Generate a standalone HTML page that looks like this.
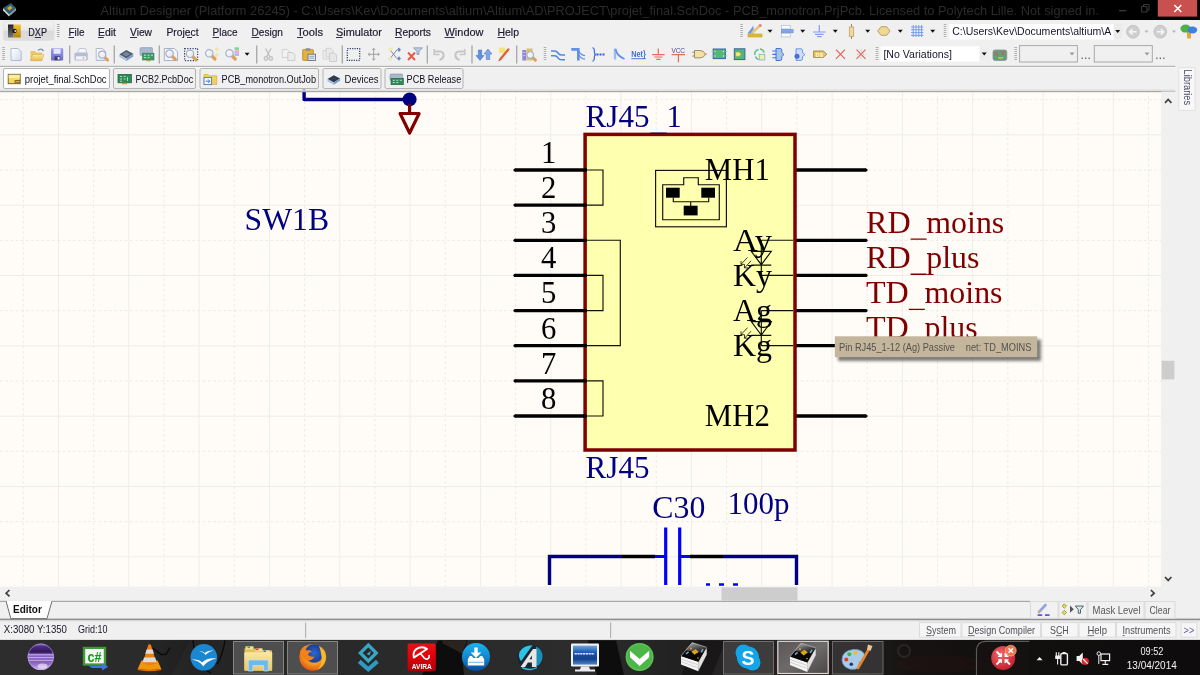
<!DOCTYPE html>
<html><head><meta charset="utf-8">
<style>
html,body{margin:0;padding:0;background:#f0f0f0;overflow:hidden;}
svg{display:block;filter:blur(0.4px);}
text{font-family:"Liberation Sans",sans-serif;}
.se,.se text{font-family:"Liberation Serif",serif;}
</style></head>
<body>
<svg width="1200" height="675" viewBox="0 0 1200 675">
<defs>
<filter id="ttsh" x="-5%" y="-30%" width="110%" height="160%"><feGaussianBlur stdDeviation="1.6"/></filter>

</defs>
<rect width="1200" height="675" fill="#f0f0f0"/>
<g id="canvas">
<rect x="0" y="92" width="1161.3" height="495" fill="#fffcf8"/>
<line x1="23.30" y1="91" x2="23.30" y2="587" stroke="#ebeae6" stroke-width="1" stroke-dasharray="2.6 2.6"/>
<line x1="58.47" y1="91" x2="58.47" y2="587" stroke="#eeede9" stroke-width="1"/>
<line x1="93.63" y1="91" x2="93.63" y2="587" stroke="#ebeae6" stroke-width="1" stroke-dasharray="2.6 2.6"/>
<line x1="128.79" y1="91" x2="128.79" y2="587" stroke="#eeede9" stroke-width="1"/>
<line x1="163.96" y1="91" x2="163.96" y2="587" stroke="#ebeae6" stroke-width="1" stroke-dasharray="2.6 2.6"/>
<line x1="199.12" y1="91" x2="199.12" y2="587" stroke="#eeede9" stroke-width="1"/>
<line x1="234.29" y1="91" x2="234.29" y2="587" stroke="#ebeae6" stroke-width="1" stroke-dasharray="2.6 2.6"/>
<line x1="269.45" y1="91" x2="269.45" y2="587" stroke="#eeede9" stroke-width="1"/>
<line x1="304.62" y1="91" x2="304.62" y2="587" stroke="#ebeae6" stroke-width="1" stroke-dasharray="2.6 2.6"/>
<line x1="339.79" y1="91" x2="339.79" y2="587" stroke="#eeede9" stroke-width="1"/>
<line x1="374.95" y1="91" x2="374.95" y2="587" stroke="#ebeae6" stroke-width="1" stroke-dasharray="2.6 2.6"/>
<line x1="410.12" y1="91" x2="410.12" y2="587" stroke="#eeede9" stroke-width="1"/>
<line x1="445.28" y1="91" x2="445.28" y2="587" stroke="#ebeae6" stroke-width="1" stroke-dasharray="2.6 2.6"/>
<line x1="480.45" y1="91" x2="480.45" y2="587" stroke="#eeede9" stroke-width="1"/>
<line x1="515.61" y1="91" x2="515.61" y2="587" stroke="#ebeae6" stroke-width="1" stroke-dasharray="2.6 2.6"/>
<line x1="550.78" y1="91" x2="550.78" y2="587" stroke="#eeede9" stroke-width="1"/>
<line x1="585.94" y1="91" x2="585.94" y2="587" stroke="#ebeae6" stroke-width="1" stroke-dasharray="2.6 2.6"/>
<line x1="621.11" y1="91" x2="621.11" y2="587" stroke="#eeede9" stroke-width="1"/>
<line x1="656.27" y1="91" x2="656.27" y2="587" stroke="#ebeae6" stroke-width="1" stroke-dasharray="2.6 2.6"/>
<line x1="691.43" y1="91" x2="691.43" y2="587" stroke="#eeede9" stroke-width="1"/>
<line x1="726.60" y1="91" x2="726.60" y2="587" stroke="#ebeae6" stroke-width="1" stroke-dasharray="2.6 2.6"/>
<line x1="761.76" y1="91" x2="761.76" y2="587" stroke="#eeede9" stroke-width="1"/>
<line x1="796.93" y1="91" x2="796.93" y2="587" stroke="#ebeae6" stroke-width="1" stroke-dasharray="2.6 2.6"/>
<line x1="832.09" y1="91" x2="832.09" y2="587" stroke="#eeede9" stroke-width="1"/>
<line x1="867.26" y1="91" x2="867.26" y2="587" stroke="#ebeae6" stroke-width="1" stroke-dasharray="2.6 2.6"/>
<line x1="902.42" y1="91" x2="902.42" y2="587" stroke="#eeede9" stroke-width="1"/>
<line x1="937.59" y1="91" x2="937.59" y2="587" stroke="#ebeae6" stroke-width="1" stroke-dasharray="2.6 2.6"/>
<line x1="972.75" y1="91" x2="972.75" y2="587" stroke="#eeede9" stroke-width="1"/>
<line x1="1007.92" y1="91" x2="1007.92" y2="587" stroke="#ebeae6" stroke-width="1" stroke-dasharray="2.6 2.6"/>
<line x1="1043.08" y1="91" x2="1043.08" y2="587" stroke="#eeede9" stroke-width="1"/>
<line x1="1078.25" y1="91" x2="1078.25" y2="587" stroke="#ebeae6" stroke-width="1" stroke-dasharray="2.6 2.6"/>
<line x1="1113.41" y1="91" x2="1113.41" y2="587" stroke="#eeede9" stroke-width="1"/>
<line x1="1148.58" y1="91" x2="1148.58" y2="587" stroke="#ebeae6" stroke-width="1" stroke-dasharray="2.6 2.6"/>
<line x1="0" y1="99.70" x2="1161" y2="99.70" stroke="#ebeae6" stroke-width="1" stroke-dasharray="2.6 2.6"/>
<line x1="0" y1="134.87" x2="1161" y2="134.87" stroke="#eeede9" stroke-width="1"/>
<line x1="0" y1="170.03" x2="1161" y2="170.03" stroke="#ebeae6" stroke-width="1" stroke-dasharray="2.6 2.6"/>
<line x1="0" y1="205.19" x2="1161" y2="205.19" stroke="#eeede9" stroke-width="1"/>
<line x1="0" y1="240.36" x2="1161" y2="240.36" stroke="#ebeae6" stroke-width="1" stroke-dasharray="2.6 2.6"/>
<line x1="0" y1="275.52" x2="1161" y2="275.52" stroke="#eeede9" stroke-width="1"/>
<line x1="0" y1="310.69" x2="1161" y2="310.69" stroke="#ebeae6" stroke-width="1" stroke-dasharray="2.6 2.6"/>
<line x1="0" y1="345.86" x2="1161" y2="345.86" stroke="#eeede9" stroke-width="1"/>
<line x1="0" y1="381.02" x2="1161" y2="381.02" stroke="#ebeae6" stroke-width="1" stroke-dasharray="2.6 2.6"/>
<line x1="0" y1="416.19" x2="1161" y2="416.19" stroke="#eeede9" stroke-width="1"/>
<line x1="0" y1="451.35" x2="1161" y2="451.35" stroke="#ebeae6" stroke-width="1" stroke-dasharray="2.6 2.6"/>
<line x1="0" y1="486.52" x2="1161" y2="486.52" stroke="#eeede9" stroke-width="1"/>
<line x1="0" y1="521.68" x2="1161" y2="521.68" stroke="#ebeae6" stroke-width="1" stroke-dasharray="2.6 2.6"/>
<line x1="0" y1="556.85" x2="1161" y2="556.85" stroke="#eeede9" stroke-width="1"/>
<!-- top-left wire + power port -->
<g fill="none" transform="translate(0.6,0)" stroke-linejoin="round" stroke-linecap="round">
<path d="M303.5 91 V99.5 H409" stroke="#000080" stroke-width="3.4"/>
<circle cx="409" cy="99.4" r="7" fill="#000080"/>
<path d="M409 105 V113" stroke="#800000" stroke-width="3.2"/>
<path d="M399.5 113.5 H418.5 L409 133 Z" stroke="#800000" stroke-width="3.2"/>
</g>
<text class="se" x="244.6" y="229.5" font-size="30.7" fill="#000080" textLength="84.5" lengthAdjust="spacingAndGlyphs">SW1B</text>
<!-- RJ45 body -->
<rect x="585.1" y="134.4" width="209.9" height="315.6" fill="#ffffb0" stroke="#800000" stroke-width="3.5"/>
<!-- pins left -->
<g stroke="#000" stroke-width="3.3" stroke-linecap="butt" transform="translate(0,0.4)">
<line x1="515" y1="169.6" x2="587" y2="169.6"/>
<line x1="515" y1="204.7" x2="587" y2="204.7"/>
<line x1="515" y1="239.9" x2="587" y2="239.9"/>
<line x1="515" y1="275.0" x2="587" y2="275.0"/>
<line x1="515" y1="310.2" x2="587" y2="310.2"/>
<line x1="515" y1="345.3" x2="587" y2="345.3"/>
<line x1="515" y1="380.4" x2="587" y2="380.4"/>
<line x1="515" y1="415.6" x2="587" y2="415.6"/>
<line x1="796.3" y1="169.6" x2="866" y2="169.6"/>
<line x1="796.3" y1="239.9" x2="866" y2="239.9"/>
<line x1="796.3" y1="275.0" x2="866" y2="275.0"/>
<line x1="796.3" y1="310.2" x2="866" y2="310.2"/>
<line x1="796.3" y1="345.3" x2="866" y2="345.3"/>
<line x1="796.3" y1="415.6" x2="866" y2="415.6"/>
</g>
<g fill="#000" transform="translate(0,0.4)">
<circle cx="515" cy="169.6" r="1.6"/><circle cx="515" cy="204.7" r="1.6"/><circle cx="515" cy="239.9" r="1.6"/><circle cx="515" cy="275" r="1.6"/>
<circle cx="515" cy="310.2" r="1.6"/><circle cx="515" cy="345.3" r="1.6"/><circle cx="515" cy="380.4" r="1.6"/><circle cx="515" cy="415.6" r="1.6"/>
<circle cx="866" cy="169.6" r="1.6"/><circle cx="866" cy="239.9" r="1.6"/><circle cx="866" cy="275" r="1.6"/><circle cx="866" cy="310.2" r="1.6"/><circle cx="866" cy="345.3" r="1.6"/><circle cx="866" cy="415.6" r="1.6"/>
</g>
<!-- inner thin lines -->
<g fill="none" stroke="#101008" stroke-width="1.15" transform="translate(0,0.4)">
<path d="M587 169.6 H603 V204.7 H587"/>
<path d="M587 239.9 H620.3 V345.3 H587"/>
<path d="M587 275 H603 V310.2 H587"/>
<path d="M587 380.4 H603 V415.6 H587"/>
<rect x="655.6" y="170" width="70.8" height="56.4"/>
<path d="M662.7 184.4 H683.7 V177.3 H698.3 V184.4 H719.3 V219.3 H662.7 Z"/>
<path d="M673.3 197 V201.3 H708.7 V197 M690.7 201.3 V206"/>
<path d="M761.3 239.9 H793 M761.3 275 H793 M761.3 239.9 V275 M751.3 251 H771.3 L761.3 264.3 Z M751.3 264.7 H771.3"/>
<path d="M761.3 310.2 H793 M761.3 345.3 H793 M761.3 310.2 V345.3 M751.3 321.3 H771.3 L761.3 334.6 Z M751.3 335 H771.3"/>
<path d="M747.5 257 L741 264 M741 264 V260.5 M741 264 H744.5 M751 260.5 L744.5 267.5 M744.5 267.5 V264 M744.5 267.5 H748" stroke-width="0.8"/>
<path d="M747.5 327.3 L741 334.3 M741 334.3 V330.8 M741 334.3 H744.5 M751 330.8 L744.5 337.8 M744.5 337.8 V334.3 M744.5 337.8 H748" stroke-width="0.8"/>
</g>
<g fill="#000" transform="translate(0,0.4)">
<rect x="666" y="187.3" width="13.7" height="10"/>
<rect x="701.3" y="187.3" width="13.7" height="10"/>
<rect x="683.7" y="205.3" width="13.9" height="9.7"/>
</g>
<!-- pin numbers -->
<g class="se" font-size="30.7" fill="#000" text-anchor="middle" transform="translate(0,0.5)">
<text x="548.6" y="162.2">1</text>
<text x="548.6" y="197.4">2</text>
<text x="548.6" y="232.5">3</text>
<text x="548.6" y="267.7">4</text>
<text x="548.6" y="302.8">5</text>
<text x="548.6" y="338.0">6</text>
<text x="548.6" y="373.1">7</text>
<text x="548.6" y="408.3">8</text>
</g>
<g class="se" font-size="30.7" fill="#000" transform="translate(0,0.8)">
<text x="704.8" y="179.6" textLength="65" lengthAdjust="spacingAndGlyphs">MH1</text>
<text x="704.8" y="425.4" textLength="65" lengthAdjust="spacingAndGlyphs">MH2</text>
<text x="733" y="250" textLength="39" lengthAdjust="spacingAndGlyphs">Ay</text>
<text x="733" y="285.2" textLength="39" lengthAdjust="spacingAndGlyphs">Ky</text>
<text x="733" y="320.4" textLength="39" lengthAdjust="spacingAndGlyphs">Ag</text>
<text x="733" y="355.5" textLength="39" lengthAdjust="spacingAndGlyphs">Kg</text>
</g>
<g class="se" font-size="30.7" fill="#000080" transform="translate(0,0.7)">
<text x="585.6" y="126.7" textLength="64" lengthAdjust="spacingAndGlyphs">RJ45</text><text x="666.4" y="126.7">1</text>
<text x="585.6" y="477.5" textLength="64" lengthAdjust="spacingAndGlyphs">RJ45</text>
<text x="652.3" y="517.3" textLength="53" lengthAdjust="spacingAndGlyphs">C30</text>
<text x="727.6" y="513" textLength="62" lengthAdjust="spacingAndGlyphs">100p</text>
</g>
<g class="se" font-size="30.9" fill="#800000" lengthAdjust="spacingAndGlyphs">
<text x="866" y="232.9" textLength="44.6" lengthAdjust="spacingAndGlyphs">RD</text><text x="926.3" y="232.9" textLength="78" lengthAdjust="spacingAndGlyphs">moins</text>
<text x="866" y="268.1" textLength="44.6" lengthAdjust="spacingAndGlyphs">RD</text><text x="926.3" y="268.1" textLength="53.2" lengthAdjust="spacingAndGlyphs">plus</text>
<text x="866" y="303.3" textLength="42.8" lengthAdjust="spacingAndGlyphs">TD</text><text x="924.5" y="303.3" textLength="78" lengthAdjust="spacingAndGlyphs">moins</text>
<text x="866" y="338.4" textLength="42.8" lengthAdjust="spacingAndGlyphs">TD</text><text x="924.5" y="338.4" textLength="53.2" lengthAdjust="spacingAndGlyphs">plus</text>
</g>
<path d="M910.6 239.1 h16 M910.6 274.3 h16 M908.8 309.4 h16" stroke="#800000" stroke-width="1.4"/>
<path d="M650.3 133.2 h16.4" stroke="#1a0060" stroke-width="1.2"/>
<!-- capacitor -->
<g fill="none">
<path d="M549.5 585 V556.5 H622" stroke="#000080" stroke-width="3.4"/>
<path d="M723 556.5 H796.5 V585" stroke="#000080" stroke-width="3.4"/>
<path d="M622 556.5 H655 M690 556.5 H723" stroke="#000" stroke-width="3.3"/>
<path d="M655 556.5 H665.5 M680 556.5 H690" stroke="#0000ff" stroke-width="3"/>
<path d="M665.7 527.5 V585 M679.7 527.5 V585" stroke="#0000ff" stroke-width="3.2"/>
<path d="M706 584.5 H710 M719 584.5 H724 M733 584.5 H738" stroke="#0000ff" stroke-width="2.5"/>
</g>
<!-- tooltip -->
<rect x="838" y="339.5" width="203" height="21.5" fill="#000" opacity="0.5" filter="url(#ttsh)"/>
<rect x="834.8" y="336.3" width="202.4" height="20.8" fill="#c4b69c"/>
<text x="839" y="350.5" font-size="10.6" fill="#54524c" textLength="116" lengthAdjust="spacingAndGlyphs">Pin RJ45_1-12 (Ag) Passive</text>
<text x="965.8" y="350.5" font-size="10.6" fill="#54524c" textLength="65.6" lengthAdjust="spacingAndGlyphs">net: TD_MOINS</text>

</g>
<g id="titlebar">
<rect x="0" y="0" width="1200" height="20" fill="#000"/>
<!-- app icon -->
<g transform="translate(2,2)">
<path d="M1 6 L9 1 L14 6 L7 12 Z" fill="#2f5f7a"/>
<path d="M1 6 L7 12 L7 14.5 L1 8.5 Z" fill="#c8d4dc"/>
<path d="M7 12 L14 6 L14 8.5 L7 14.5 Z" fill="#8da0ae"/>
<path d="M5 6 L8.5 3.8 L10.5 6 L7.3 8.4 Z" fill="#d9a520"/>
</g>
<text x="100.5" y="14.6" font-size="12.7" fill="#2b2b2b" textLength="998.5" lengthAdjust="spacingAndGlyphs">Altium Designer (Platform 26245) - C:\Users\Kev\Documents\altium\Altium\AD\PROJECT\projet_final.SchDoc - PCB_monotron.PrjPcb. Licensed to Polytech Lille. Not signed in.</text>
<!-- window buttons -->
<rect x="1119" y="10" width="7" height="1.3" fill="#3a3a3a"/>
<path d="M1141.5 6.5 h5.5 v5.5 h-5.5 z M1143.5 6.5 v-2 h5.5 v5.5 h-2" fill="none" stroke="#3a3a3a" stroke-width="1"/>
<rect x="1157.8" y="0" width="39.4" height="16.6" fill="#c8504f"/>
<path d="M1174.3 5 L1181.3 12 M1181.3 5 L1174.3 12" stroke="#fff" stroke-width="1.6"/>
</g>

<g id="menubar">
<defs>
<linearGradient id="dxpg" x1="0" y1="0" x2="0" y2="1"><stop offset="0" stop-color="#f2f2f2"/><stop offset="0.5" stop-color="#e6e6e6"/><stop offset="0.5" stop-color="#d8d8d8"/><stop offset="1" stop-color="#dedede"/></linearGradient>
<linearGradient id="dxpk" x1="0" y1="0" x2="0" y2="1"><stop offset="0" stop-color="#222"/><stop offset="1" stop-color="#777"/></linearGradient>
<linearGradient id="dxpy" x1="0" y1="0" x2="0" y2="1"><stop offset="0" stop-color="#f3c432"/><stop offset="1" stop-color="#b98208"/></linearGradient>
</defs>
<rect x="3.3" y="21.5" width="50.8" height="19" rx="2.5" fill="url(#dxpg)" stroke="#e2e2e2" stroke-width="0.8"/>
<rect x="8" y="24.5" width="5.6" height="13" fill="url(#dxpk)"/>
<rect x="13.8" y="24.5" width="7" height="13" fill="url(#dxpy)"/>
<circle cx="14.5" cy="31" r="2.2" fill="#1a1a1a"/>
<circle cx="15.3" cy="31" r="1" fill="#d8d8d8"/>
<g font-size="11.6" fill="#1c1c30" stroke="#1c1c30" stroke-width="0.2">
<text x="28.3" y="35.8" textLength="18.7" lengthAdjust="spacingAndGlyphs">DXP</text>
<text x="68.5" y="35.8" textLength="16" lengthAdjust="spacingAndGlyphs">File</text>
<text x="98" y="35.8" textLength="18" lengthAdjust="spacingAndGlyphs">Edit</text>
<text x="130" y="35.8" textLength="22" lengthAdjust="spacingAndGlyphs">View</text>
<text x="166.5" y="35.8" textLength="32" lengthAdjust="spacingAndGlyphs">Project</text>
<text x="212.5" y="35.8" textLength="25" lengthAdjust="spacingAndGlyphs">Place</text>
<text x="251.5" y="35.8" textLength="31.5" lengthAdjust="spacingAndGlyphs">Design</text>
<text x="297" y="35.8" textLength="26" lengthAdjust="spacingAndGlyphs">Tools</text>
<text x="336" y="35.8" textLength="46" lengthAdjust="spacingAndGlyphs">Simulator</text>
<text x="395" y="35.8" textLength="36" lengthAdjust="spacingAndGlyphs">Reports</text>
<text x="444.5" y="35.8" textLength="39" lengthAdjust="spacingAndGlyphs">Window</text>
<text x="497.5" y="35.8" textLength="21.5" lengthAdjust="spacingAndGlyphs">Help</text>
</g>
<g stroke="#1c1c30" stroke-width="0.9">
<path d="M34.8 37.5 h6.2 M68.5 37.5 h5.5 M98 37.5 h5.8 M130 37.5 h7 M187 37.5 h5 M212.5 37.5 h6.5 M251.5 37.5 h7.5 M297 37.5 h6 M336 37.5 h6.5 M395 37.5 h7 M444.5 37.5 h10 M497.5 37.5 h7.5"/>
</g>
<path d="M58.2 24 v14" stroke="#a8a8a8" stroke-width="2.6" stroke-dasharray="1 1"/>
</g>

<g id="toolbar">
<defs>
<linearGradient id="docg" x1="0" y1="0" x2="1" y2="1"><stop offset="0" stop-color="#ffffff"/><stop offset="1" stop-color="#d4dcee"/></linearGradient>
<linearGradient id="fold" x1="0" y1="0" x2="0" y2="1"><stop offset="0" stop-color="#fbe9a6"/><stop offset="1" stop-color="#e8b84e"/></linearGradient>
<linearGradient id="save" x1="0" y1="0" x2="0" y2="1"><stop offset="0" stop-color="#9a9cec"/><stop offset="1" stop-color="#6a6dcc"/></linearGradient>
<linearGradient id="lens" x1="0" y1="0" x2="1" y2="1"><stop offset="0" stop-color="#ffffff"/><stop offset="1" stop-color="#dde6f2"/></linearGradient>
<g id="mag"><path d="M3 3 L5.700 5.700" stroke="#dea058" stroke-width="3.200" stroke-linecap="round"/><circle cx="0" cy="0" r="3.700" fill="url(#lens)" stroke="#a8b0c2" stroke-width="1.200"/></g>
<path id="dd" d="M0 0 h5 l-2.5 3 z" fill="#111"/>
<path id="sep" d="M0 45.5 v18" stroke="#a6a6a6" stroke-width="1.3"/>
<path id="grip" d="M0 0 v14" stroke="#b0b0b0" stroke-width="2.6" stroke-dasharray="1 1"/>
</defs>
<!-- line under toolbars -->
<rect x="0" y="65.8" width="1175.5" height="1.2" fill="#b4b4b4"/><rect x="0" y="67" width="1175.5" height="1" fill="#f8f8f8"/>
<use href="#grip" x="3.6" y="47"/>
<!-- new -->
<path d="M11 48.5 h7 l3.2 3.2 v8.8 h-10.2 z" fill="url(#docg)" stroke="#a9b4cc" stroke-width="0.9"/>
<!-- open -->
<path d="M30.5 51 h4.5 l1.2 1.5 h6 v8 h-11.7 z" fill="#e9c566"/>
<path d="M32.8 54.5 h11.2 l-2.2 6.2 h-11.3 z" fill="url(#fold)" stroke="#d2a848" stroke-width="0.5"/>
<path d="M38 50.5 q3 -3 5.5 0.5" fill="none" stroke="#6d8fc8" stroke-width="1.3"/>
<!-- save -->
<rect x="51" y="48.3" width="12.2" height="12.2" rx="0.8" fill="url(#save)"/>
<rect x="53.6" y="48.8" width="7" height="5" fill="#e6e8fb"/>
<rect x="54.6" y="56.3" width="5.6" height="4" fill="#3a3d6e"/>
<rect x="57.6" y="57" width="2" height="2.6" fill="#e8e8f6"/>
<use href="#sep" x="69.7"/>
<!-- print -->
<path d="M77.5 53 l2 -4.5 h6 l1.5 4.5 z" fill="#f6f8fc" stroke="#a9b4cc" stroke-width="0.7"/>
<rect x="74.4" y="52.8" width="13.4" height="7.6" rx="1.3" fill="#b4bdd2"/>
<rect x="76" y="56.3" width="10.2" height="3.3" fill="#f2f4f8"/>
<rect x="82.8" y="57.5" width="1.4" height="1" fill="#d66"/>
<!-- preview -->
<path d="M96.2 48.5 h6.4 l3 3 v9 h-9.4 z" fill="url(#docg)" stroke="#a9b4cc" stroke-width="0.9"/>
<use href="#mag" transform="translate(102.2,54.6) scale(0.95)"/>
<use href="#sep" x="114.3"/>
<!-- chip -->
<path d="M119.3 54.5 l7 -4.5 l7 3.8 l-7 4.7 z" fill="#4e5a6e"/>
<path d="M119.3 54.5 l7 4 v2.6 l-7 -4 z" fill="#a9c3e4"/>
<path d="M126.3 58.5 l7 -4.7 v2.6 l-7 4.7 z" fill="#7f9cc6"/>
<path d="M122.3 54.2 l4 -2.5 l4 2.2 l-4 2.6 z" fill="#7a8698"/>
<!-- pcb -->
<rect x="140" y="47.6" width="12.5" height="8" rx="1.2" fill="#a9b8cc" stroke="#8a98ae" stroke-width="0.6"/>
<rect x="142.5" y="53.2" width="11.5" height="6.8" fill="#3f9a6a" stroke="#2d7a50" stroke-width="0.6"/>
<path d="M144 55.2 h2 M147.5 55.2 h2 M151 55.2 h2 M144 57.6 h2 M147.5 57.6 h2" stroke="#bfe6c8" stroke-width="1"/>
<rect x="146.5" y="60" width="4" height="1.3" fill="#c9a227"/>
<use href="#sep" x="159.3"/>
<!-- zoom doc -->
<path d="M164.3 48.5 h10 l3.3 3.3 v8.8 h-13.3 z" fill="#f1f4fa" stroke="#9fabc4" stroke-width="0.9"/>
<use href="#mag" transform="translate(169.6,53.6)"/>
<!-- zoom area -->
<rect x="184.6" y="48.6" width="13" height="12" fill="none" stroke="#3a4a78" stroke-width="1.2" stroke-dasharray="1.3 1.3"/>
<use href="#mag" transform="translate(190,53.8)"/>
<!-- zoom selected -->
<use href="#mag" transform="translate(209.3,53.3)"/>
<path d="M216.8 47.5 l1.8 1.8 l-1.8 1.8 l-1.8 -1.8 z M216.8 53 l1.8 1.8 l-1.8 1.8 l-1.8 -1.8 z" fill="#f3ec9c" stroke="#d9d28a" stroke-width="0.4"/>
<!-- zoom filtered -->
<use href="#mag" transform="translate(229.5,53.3)"/>
<rect x="234.5" y="47.3" width="4.5" height="2.6" fill="#7fd89a"/><rect x="234.5" y="50.3" width="4.5" height="2.6" fill="#f0a6b8"/><rect x="234.5" y="53.3" width="4.5" height="2.6" fill="#a9b4f4"/>
<use href="#dd" x="244.6" y="52.8"/>
<use href="#sep" x="256.7"/>
<!-- cut -->
<g stroke="#c3c3c3" fill="none" stroke-width="1.5"><path d="M265.6 48.5 L270 57 M271 48.5 L266.6 57"/><circle cx="266" cy="58.5" r="1.7"/><circle cx="270.8" cy="58.5" r="1.7"/></g>
<!-- copy -->
<path d="M282.3 49.5 h5 l2 2 v6 h-7 z" fill="#f2f2f2" stroke="#c9c9c9" stroke-width="0.8"/>
<path d="M287.8 52.5 h5 l2 2 v6 h-7 z" fill="#ececec" stroke="#c4c4c4" stroke-width="0.8"/>
<!-- paste -->
<rect x="302.6" y="49.4" width="10.8" height="11" rx="1" fill="#e3b23c" stroke="#a98220" stroke-width="0.7"/>
<rect x="305.6" y="48.3" width="4.6" height="2.4" rx="0.6" fill="#8c8c94"/>
<rect x="308" y="54.2" width="7.6" height="6.2" fill="#dfe6f4" stroke="#5f6b88" stroke-width="0.8"/>
<path d="M309.3 56.4 h4.8 M309.3 58.2 h4.8" stroke="#7f8db0" stroke-width="0.7"/>
<!-- paste special -->
<path d="M323 50.5 h5 l2 2 v6.5 h-7 z" fill="#ededed" stroke="#cdcdcd" stroke-width="0.8"/>
<path d="M326 48.3 h5 l2 2 v6.5 h-7 z" fill="#e9e9e9" stroke="#cdcdcd" stroke-width="0.8"/>
<path d="M329.5 53 h5 l2 2 v6.5 h-7 z" fill="#e6e6e6" stroke="#c6c6c6" stroke-width="0.8"/>
<use href="#sep" x="342.3"/>
<!-- select rect -->
<rect x="347.3" y="48.7" width="12.4" height="11.6" fill="none" stroke="#2d3b6e" stroke-width="1.2" stroke-dasharray="1.2 1.2"/>
<!-- move -->
<path d="M373.7 48.5 v11.5 M368.2 54.3 h11 M372.2 50 l1.5 -1.7 l1.5 1.7 M372.2 58.6 l1.5 1.7 l1.5 -1.7 M369.8 52.8 l-1.7 1.5 l1.7 1.5 M377.7 52.8 l1.7 1.5 l-1.7 1.5" fill="none" stroke="#9e9e9e" stroke-width="1"/>
<!-- deselect -->
<path d="M390 49.8 L397 58.6 M390 58.6 L397 49.8" stroke="#6f7f9f" stroke-width="0.9"/>
<path d="M390.3 47.6 l2 2 l-2 2 l-2 -2 z M390.3 56.6 l2 2 l-2 2 l-2 -2 z" fill="#f6efa6" stroke="#d8d090" stroke-width="0.4"/>
<path d="M399 47.6 l2 2.2 l-2 2.2 l-2 -2.2 z M399 56.3 l2 2.2 l-2 2.2 l-2 -2.2 z" fill="#6f86bf"/>
<!-- clear filter -->
<path d="M408 52.5 L415 60 M415 52.5 L408 60" stroke="#e8574a" stroke-width="1.9"/>
<path d="M413.5 47.8 h9 l-3.4 3.6 v3 h-2.2 v-3 z" fill="#b9cbe6" stroke="#6f7f9f" stroke-width="0.6"/>
<use href="#sep" x="427.3"/>
<!-- undo redo -->
<path d="M435 51.5 h5 q4 0.5 3.5 4.5 q-0.6 3 -4 4" fill="none" stroke="#c6c6c6" stroke-width="2.2"/>
<path d="M434.2 49 v5.5 h5.3" fill="none" stroke="#c6c6c6" stroke-width="1.6"/>
<path d="M464 51.5 h-5 q-4 0.5 -3.5 4.5 q0.6 3 4 4" fill="none" stroke="#c6c6c6" stroke-width="2.2"/>
<path d="M464.8 49 v5.5 h-5.3" fill="none" stroke="#c6c6c6" stroke-width="1.6"/>
<use href="#sep" x="472"/>
<!-- up down arrows -->
<path d="M478.3 50 h3.4 v5.5 h2.3 l-4 5 l-4 -5 h2.3 z" fill="#5f8fe0" stroke="#3f6fc0" stroke-width="0.5"/>
<path d="M486.3 59.5 h3.4 v-5.5 h2.3 l-4 -5 l-4 5 h2.3 z" fill="#7fa6ea" stroke="#3f6fc0" stroke-width="0.5"/>
<!-- pencil note -->
<rect x="499" y="47.5" width="6.2" height="5.5" fill="#f6e27a"/>
<path d="M508.3 49.5 L500.3 59.2" stroke="#e0603a" stroke-width="2.3" stroke-linecap="round"/>
<path d="M500.3 59.2 l-1.6 2" stroke="#6a5040" stroke-width="1"/>
<use href="#sep" x="516.7"/>
<!-- library search -->
<rect x="522.3" y="50" width="4" height="10.5" fill="#8f86d6"/><rect x="526.6" y="48.5" width="6" height="12" fill="#d9c06a"/>
<path d="M523 52.5 h2.6 M523 55.5 h2.6" stroke="#c9c4f0" stroke-width="0.8"/>
<use href="#mag" transform="translate(530.3,55) scale(0.9)"/>
<use href="#grip" x="545" y="47"/>
<!-- wire -->
<path d="M551 51 h3.5 q2.3 0 3.5 2 q1.2 2 3.5 2 h3.5 M551 55.8 h3.5 q2.3 0 3.5 2 q1.2 2 3.5 2 h3.5" fill="none" stroke="#4f86e6" stroke-width="1.5"/>
<!-- bus -->
<path d="M571.3 49.4 h7 v11" fill="none" stroke="#5f8fe8" stroke-width="2.6"/>
<path d="M579 51 q1.5 4 6 4.6 M579 55 q1.5 3.6 6 4.2" fill="none" stroke="#5f8fe8" stroke-width="1.2"/>
<!-- bus entry -->
<path d="M592.6 47.5 q1.8 1 1.8 3.2 v1.8 q0 1.8 1.8 2 q-1.8 0.2 -1.8 2 v1.8 q0 2.2 -1.8 3.2" fill="none" stroke="#3f76d8" stroke-width="1.3"/>
<path d="M596.5 54.5 h8.5" stroke="#2f5fd0" stroke-width="1.8" stroke-dasharray="2 1"/>
<!-- diag entry -->
<path d="M615 48.5 v11" stroke="#9fbcf0" stroke-width="2.4"/>
<path d="M615.5 49 q1.5 7 9 10" fill="none" stroke="#5f8fe8" stroke-width="1.7"/>
<!-- net label -->
<text x="631.2" y="57" font-size="8.6" font-weight="bold" fill="#3f6fd0" textLength="14.6" lengthAdjust="spacingAndGlyphs">Net}</text>
<path d="M631.3 58.7 h14.5" stroke="#3f6fd0" stroke-width="0.9"/>
<!-- gnd -->
<path d="M658.3 48.5 v6 M652.2 54.6 h12.4 M654.3 57 h8.2 M656.3 59.3 h4.2" stroke="#ea6a58" stroke-width="1.2" fill="none"/>
<!-- vcc -->
<text x="671.4" y="52.6" font-size="7.2" fill="#4a4a78" textLength="13.6" lengthAdjust="spacingAndGlyphs">VCC</text>
<path d="M671.6 54.7 h13.4 M678.4 54.7 v7.6" stroke="#ea6a58" stroke-width="1.2"/>
<!-- part gate -->
<path d="M694.5 50.5 h5.5 q4 0 5.3 3.6 q-1.3 3.8 -5.3 3.8 h-5.5 z" fill="#f3dfa8" stroke="#8a7a52" stroke-width="0.8"/>
<path d="M692.4 52.3 h2 M692.4 56 h2 M705.3 54.2 h1.5" stroke="#777" stroke-width="0.9"/>
<!-- sheet symbol -->
<rect x="713.2" y="49" width="12.2" height="9.6" fill="#4fb87a" stroke="#3f5fa8" stroke-width="1"/>
<path d="M711.5 51.5 h2 M711.5 56 h2 M725.3 51.5 h2 M725.3 56 h2" stroke="#9fbcf0" stroke-width="1"/>
<path d="M714.6 50.6 l1.6 1 l-1.6 1 z M714.6 55 l1.6 1 l-1.6 1 z M724 50.6 l-1.6 1 l1.6 1 z M724 55 l-1.6 1 l1.6 1 z" fill="#f3ec6a"/>
<!-- sheet entry -->
<rect x="734.3" y="48.8" width="10.6" height="10.8" fill="#4fb87a" stroke="#3f5fa8" stroke-width="1"/>
<path d="M735.6 52 h3.6 l2 2.2 l-2 2.2 h-3.6 z" fill="#f3ec6a" stroke="#8a8a3a" stroke-width="0.4"/>
<!-- recycle -->
<path d="M755 55 q-1 -4 3.5 -5.5 M760 49 q3.5 0.6 4.2 3.6 M755.5 56.5 q0.8 2.6 3 3" fill="none" stroke="#5fc08a" stroke-width="1.5"/>
<rect x="759.2" y="54.3" width="5.6" height="5.6" fill="#eef2a0" stroke="#7fb0d8" stroke-width="0.8"/>
<!-- harness -->
<path d="M776 48.5 h4.3 q1.5 0 1.5 1.8 v2.2 l2.2 2 l-2.2 2 v2.2 q0 1.8 -1.5 1.8 h-4.3 z" fill="#a9c3f0" stroke="#3f76d8" stroke-width="1"/>
<path d="M772.3 51 h4 M772.3 54.4 h4 M772.3 57.8 h4" stroke="#3f76d8" stroke-width="1.1"/>
<!-- harness 2 -->
<path d="M796 48.8 h5 q1.5 0 1.5 1.8 v2 l2.4 2 l-2.4 2 v2 q0 1.8 -1.5 1.8 h-5 z" fill="#cfdcf6" stroke="#5f8fe8" stroke-width="0.9"/>
<circle cx="797" cy="56.3" r="2.5" fill="#3f6fe0"/>
<!-- tag -->
<path d="M813.6 51 h9.6 l3.6 3.2 l-3.6 3.2 h-9.6 z" fill="#e6c66a" stroke="#9a7a2a" stroke-width="0.8"/>
<text x="815.6" y="56.7" font-size="5.6" font-weight="bold" fill="#fff8d8">D$</text>
<!-- red X -->
<path d="M836 49.6 L845 58.8 M845 49.6 L836 58.8" stroke="#ea5a4e" stroke-width="1.1"/>
<path d="M856.5 49.6 L865.5 58.8 M865.5 49.6 L856.5 58.8" stroke="#ea5a4e" stroke-width="1.1"/>
<path d="M861 49.5 v9.5 M856.8 54.2 h8.5" stroke="#b0b0b0" stroke-width="1" stroke-dasharray="1 1"/>
<use href="#grip" x="877" y="47"/>
<!-- variations combo -->
<rect x="880.5" y="46.3" width="108.5" height="15.3" fill="#fff"/>
<rect x="979.5" y="46.3" width="9.5" height="15.3" fill="#ededed"/>
<text x="883.4" y="57.6" font-size="11.4" fill="#14142a" textLength="68.5" lengthAdjust="spacingAndGlyphs">[No Variations]</text>
<use href="#dd" x="981.7" y="52.6"/>
<!-- pcb X -->
<rect x="993" y="50" width="13.8" height="10.4" rx="2" fill="#5fa07a" stroke="#8a8f96" stroke-width="0.8"/>
<path d="M994.6 52.2 l3.6 4 M998.2 52.2 l-3.6 4 M1001.3 51.3 l3.6 4 M1004.9 51.3 l-3.6 4" stroke="#e0524a" stroke-width="1"/>
<rect x="998" y="57.2" width="5" height="1.4" fill="#d6c24a"/>
<use href="#grip" x="1015.7" y="47"/>
<rect x="1019.6" y="45.6" width="57.8" height="16.4" fill="#f0f0f0" stroke="#a8a8a8" stroke-width="1"/>
<path d="M1069.5 52.5 h5 l-2.5 3 z" fill="#9a9a9a"/>
<rect x="1094.3" y="45.6" width="58" height="16.4" fill="#f0f0f0" stroke="#a8a8a8" stroke-width="1"/>
<path d="M1144.5 52.5 h5 l-2.5 3 z" fill="#9a9a9a"/>
<g fill="#555"><rect x="1081.5" y="57.6" width="1.3" height="1.3"/><rect x="1085" y="57.6" width="1.3" height="1.3"/><rect x="1088.5" y="57.6" width="1.3" height="1.3"/>
<rect x="1156.2" y="57.6" width="1.3" height="1.3"/><rect x="1159.7" y="57.6" width="1.3" height="1.3"/><rect x="1163.2" y="57.6" width="1.3" height="1.3"/></g>
<!-- ROW 1 right -->
<use href="#grip" x="741.6" y="24"/>
<path d="M747.5 33.5 l6 -8 v8 z" fill="#5f86e0" opacity="0.9"/>
<path d="M752.5 32.5 l7.5 -7" stroke="#e6c67a" stroke-width="2.6" stroke-linecap="round"/>
<circle cx="760.3" cy="25.6" r="1.4" fill="#e87a7a"/>
<rect x="748" y="34" width="14" height="3" fill="#e3b93c" stroke="#b8901e" stroke-width="0.5"/>
<use href="#dd" x="767.5" y="29.8"/>
<rect x="781.3" y="25.3" width="9" height="3.6" fill="#fafcff" stroke="#a9b8d8" stroke-width="0.7"/>
<rect x="781.3" y="29.4" width="11.8" height="3.4" fill="#7fa6ea" stroke="#5f86d0" stroke-width="0.5"/>
<rect x="781.3" y="33.3" width="9" height="3.6" fill="#fafcff" stroke="#a9b8d8" stroke-width="0.7"/>
<use href="#dd" x="800.2" y="29.8"/>
<path d="M819.3 25 v7 M813 32 h12.6 M815 34.4 h8.6 M817 36.7 h4.6" stroke="#7f9fe8" stroke-width="1.2"/>
<use href="#dd" x="832.8" y="29.8"/>
<path d="M851.5 24 v15" stroke="#8a7a52" stroke-width="0.9"/>
<rect x="849.3" y="27" width="4.4" height="9.6" fill="#f0d8a0" stroke="#b89a5a" stroke-width="0.7"/>
<use href="#dd" x="865.2" y="29.8"/>
<path d="M877.6 31 l3.4 -4.3 h5.6 l3.4 4.3 l-3.4 4.3 h-5.6 z" fill="#f0d890" stroke="#a8905a" stroke-width="0.8"/>
<use href="#dd" x="897.8" y="29.8"/>
<path d="M913.2 25 v12 M916 25 v12 M918.8 25 v12 M921.6 25 v12 M911 27 h12.4 M911 29.8 h12.4 M911 32.6 h12.4 M911 35.4 h12.4" stroke="#6f96e6" stroke-width="0.9"/>
<use href="#dd" x="930.2" y="29.8"/>
<use href="#grip" x="945" y="24"/>
<rect x="949.4" y="24" width="173.4" height="15.4" fill="#fff"/>
<rect x="1113.4" y="24" width="9.4" height="15.4" fill="#ebebeb"/>
<text x="952.2" y="35.2" font-size="11.8" fill="#14142a" textLength="159" lengthAdjust="spacingAndGlyphs">C:\Users\Kev\Documents\altium\A</text>
<rect x="1111.9" y="24" width="1.5" height="15.4" fill="#fff"/>
<use href="#dd" x="1115.2" y="30"/>
<circle cx="1133" cy="31.7" r="6.4" fill="#cfcfcf" stroke="#bdbdbd" stroke-width="0.8"/>
<path d="M1136.5 31.7 h-6 M1132.5 29 l-2.8 2.7 l2.8 2.7" stroke="#f4f4f4" stroke-width="1.6" fill="none"/>
<path d="M1144.5 30.5 h4 l-2 2.4 z" fill="#b6b6b6"/>
<circle cx="1160.3" cy="31.7" r="6.4" fill="#cfcfcf" stroke="#bdbdbd" stroke-width="0.8"/>
<path d="M1156.8 31.7 h6 M1160.8 29 l2.8 2.7 l-2.8 2.7" stroke="#f4f4f4" stroke-width="1.6" fill="none"/>
<path d="M1172 30.5 h4 l-2 2.4 z" fill="#b6b6b6"/>
<!-- home -->
<rect x="1187" y="31" width="4" height="7.6" rx="1" fill="#e0a83a"/>
<ellipse cx="1185.6" cy="28.6" rx="5.2" ry="4" fill="#4fb04a"/>
<ellipse cx="1192.4" cy="30" rx="4.8" ry="3.4" fill="#3f7fe0"/>
</g>

<g id="tabs">
<rect x="0" y="90.9" width="1175.5" height="1.3" fill="#a8a8a8"/>
<rect x="0" y="89.5" width="1175.5" height="1.4" fill="#dedede"/>
<g stroke="#b4b4b4" stroke-width="1">
<rect x="3.5" y="68.5" width="106" height="20" rx="1.5" fill="#ffffff"/>
<rect x="113.5" y="68.5" width="82" height="20" rx="1.5" fill="#f0f0f0"/>
<rect x="200" y="68.5" width="118.5" height="20" rx="1.5" fill="#f0f0f0"/>
<rect x="323" y="68.5" width="58" height="20" rx="1.5" fill="#f0f0f0"/>
<rect x="385" y="68.5" width="78" height="20" rx="1.5" fill="#f0f0f0"/>
</g>
<!-- sch icon -->
<rect x="8.2" y="74.3" width="12" height="9.4" fill="#f6d85a" stroke="#6a5a2a" stroke-width="0.9"/>
<rect x="8.7" y="74.8" width="11" height="3.4" fill="#fbeea0"/>
<rect x="14.6" y="80" width="5.6" height="3.4" fill="#8a6a2a"/>
<path d="M15.5 81.7 h4" stroke="#f6d85a" stroke-width="0.8"/>
<!-- pcb icon -->
<rect x="118" y="74.4" width="13.4" height="8.4" fill="#2f8a5a" stroke="#1f5a3a" stroke-width="0.7"/>
<path d="M120 76.5 h2 M120 79 h2 M120 81.2 h2 M123.6 76.5 h2 M123.6 79 h2 M127.5 77 v4" stroke="#9fe0b0" stroke-width="1"/>
<rect x="122" y="82.8" width="5" height="1.5" fill="#c9a227"/>
<!-- outjob icon -->
<path d="M204 74.5 h4 l1.2 1.3 h7.6 v8.6 h-12.8 z" fill="#f0d066" stroke="#c9a43a" stroke-width="0.6"/>
<rect x="204" y="77.6" width="7.6" height="7" fill="#f4f8ff" stroke="#4f76c8" stroke-width="0.9"/>
<path d="M205.6 81.2 h4 M208.2 79.5 l1.6 1.7 l-1.6 1.7" stroke="#3f66c8" stroke-width="0.9" fill="none"/>
<!-- devices icon -->
<path d="M327.5 79 l6.3 -3.8 l6.3 3.2 l-6.3 4 z" fill="#2f3a4e"/>
<path d="M327.5 79 l6.3 3.4 v2.4 l-6.3 -3.4 z" fill="#a9c3e4"/>
<path d="M333.8 82.4 l6.3 -4 v2.4 l-6.3 4 z" fill="#7f9cc6"/>
<!-- release icon -->
<rect x="390" y="74" width="12.6" height="6.4" rx="1" fill="#a9b8cc" stroke="#7f8ea6" stroke-width="0.6"/>
<rect x="391" y="78.3" width="12.4" height="6.4" fill="#2f8a5a" stroke="#1f5a3a" stroke-width="0.6"/>
<path d="M392.8 80.3 h2 M396.3 80.3 h2 M399.8 80.3 h2 M392.8 82.6 h2 M396.3 82.6 h2" stroke="#bfe6c8" stroke-width="0.9"/>
<g font-size="10.4" fill="#101020">
<text x="24.8" y="82.6" textLength="81.8" lengthAdjust="spacingAndGlyphs">projet_final.SchDoc</text>
<text x="135.4" y="82.6" textLength="57.8" lengthAdjust="spacingAndGlyphs">PCB2.PcbDoc</text>
<text x="221.6" y="82.6" textLength="94.4" lengthAdjust="spacingAndGlyphs">PCB_monotron.OutJob</text>
<text x="344.6" y="82.6" textLength="34" lengthAdjust="spacingAndGlyphs">Devices</text>
<text x="406.6" y="82.6" textLength="54.6" lengthAdjust="spacingAndGlyphs">PCB Release</text>
</g>
</g>

<g id="right">
<!-- vscroll -->
<rect x="1161.3" y="91.6" width="14.3" height="495" fill="#f0f0f0"/>
<path d="M1165 102.8 l3.2 -3.4 l3.2 3.4" fill="none" stroke="#404040" stroke-width="1.7"/>
<path d="M1165 577 l3.2 3.4 l3.2 -3.4" fill="none" stroke="#404040" stroke-width="1.7"/>
<rect x="1161.6" y="360.8" width="12.8" height="18.6" fill="#cdcdcd"/>
<!-- libraries -->
<rect x="1175.6" y="44" width="24.4" height="596" fill="#f0f0f0"/>
<rect x="1178.7" y="67.6" width="16.4" height="42.8" fill="#f8f8f8" stroke="#e2e2e2" stroke-width="1"/>
<text transform="translate(1183.5,69.6) rotate(90)" font-size="10.6" fill="#4a4a6a" textLength="35.5" lengthAdjust="spacingAndGlyphs">Libraries</text>
</g>

<g id="bottom">
<!-- hscroll -->
<rect x="0" y="586.6" width="1175.6" height="14.4" fill="#f0f0f0"/>
<path d="M9.5 590 l-3.4 3.2 l3.4 3.2" fill="none" stroke="#404040" stroke-width="1.7"/>
<path d="M1150.8 590 l3.4 3.2 l-3.4 3.2" fill="none" stroke="#404040" stroke-width="1.7"/>
<rect x="721.5" y="587.3" width="76" height="13.2" fill="#cdcdcd"/>
<!-- editor row -->
<rect x="0" y="600.8" width="1030.5" height="1.2" fill="#a6a6a6"/>
<rect x="0" y="618.6" width="1200" height="1.7" fill="#8e8e8e"/>
<rect x="0" y="620.3" width="1200" height="1" fill="#d8d8d8"/>
<path d="M6.2 601.6 L10.8 618.6 H47 L51.8 601.6" fill="#fff" stroke="#606060" stroke-width="0.9"/>
<rect x="7" y="600.6" width="44" height="1.6" fill="#fff"/>
<text x="13" y="612.6" font-size="10.4" font-weight="bold" fill="#111" textLength="28.8" lengthAdjust="spacingAndGlyphs">Editor</text>
<!-- mask buttons -->
<g fill="#f1f1f1" stroke="#dadada" stroke-width="1">
<rect x="1030.5" y="601.5" width="27.5" height="16.8"/>
<rect x="1059" y="601.5" width="28" height="16.8"/>
<rect x="1088" y="601.5" width="56" height="16.8"/>
<rect x="1145" y="601.5" width="30" height="16.8"/>
</g>
<path d="M1039 612 l6.5 -7" stroke="#8fa6e0" stroke-width="2.6" stroke-linecap="round"/>
<path d="M1038.5 612.5 l1.8 -2 " stroke="#d8a860" stroke-width="2"/>
<rect x="1037.6" y="614.2" width="4.6" height="1.8" fill="#5a5ae8"/><rect x="1045" y="614.2" width="4.6" height="1.8" fill="#5a5ae8"/>
<path d="M1064.3 603.8 l2.2 2.2 l-2.2 2.2 l-2.2 -2.2 z M1064.3 610.3 l2.2 2.2 l-2.2 2.2 l-2.2 -2.2 z" fill="#ece04a" stroke="#6a6a2a" stroke-width="0.6"/>
<path d="M1070 605.6 l3.8 3.6 l-3.8 3.6 z" fill="#555"/>
<path d="M1075.3 606 h8.2 l-3 3.6 v3.6 h-2.2 v-3.6 z" fill="#d8e8e8" stroke="#3a5a5a" stroke-width="0.9"/>
<text x="1092.5" y="613.8" font-size="10.6" fill="#585858" textLength="48" lengthAdjust="spacingAndGlyphs">Mask Level</text>
<text x="1149.5" y="613.8" font-size="10.6" fill="#585858" textLength="21" lengthAdjust="spacingAndGlyphs">Clear</text>
<!-- status bar -->
<text x="3.8" y="632.8" font-size="10.4" fill="#181828" textLength="63.2" lengthAdjust="spacingAndGlyphs">X:3080 Y:1350</text>
<text x="78" y="632.8" font-size="10.4" fill="#181828" textLength="29.5" lengthAdjust="spacingAndGlyphs">Grid:10</text>
<rect x="305" y="622.5" width="1.2" height="15.5" fill="#b4b4b4"/>
<rect x="610" y="622.5" width="1.2" height="15.5" fill="#b4b4b4"/>
<g fill="#f6f6f6" stroke="#dcdcdc" stroke-width="1">
<rect x="919.5" y="622.6" width="41.5" height="14.6"/>
<rect x="962" y="622.6" width="78.5" height="14.6"/>
<rect x="1041.5" y="622.6" width="36.5" height="14.6"/>
<rect x="1079" y="622.6" width="36.5" height="14.6"/>
<rect x="1116.5" y="622.6" width="59.5" height="14.6"/>
<rect x="1181" y="622.6" width="16" height="14.6"/>
</g>
<g font-size="10.4" fill="#505058">
<text x="926" y="633.8" textLength="30" lengthAdjust="spacingAndGlyphs">System</text>
<text x="968" y="633.8" textLength="67" lengthAdjust="spacingAndGlyphs">Design Compiler</text>
<text x="1050" y="633.8" textLength="18.7" lengthAdjust="spacingAndGlyphs">SCH</text>
<text x="1087.5" y="633.8" textLength="19.5" lengthAdjust="spacingAndGlyphs">Help</text>
<text x="1122.5" y="633.8" textLength="48" lengthAdjust="spacingAndGlyphs">Instruments</text>
<text x="1183.6" y="633.6" textLength="10.6" lengthAdjust="spacingAndGlyphs" fill="#5a6a9a">&gt;&gt;</text>
</g>
<path d="M926 635.6 h5.6 M968 635.6 h6.6 M1056 635.6 h6 M1087.5 635.6 h6.4 M1122.5 635.6 h2.2" stroke="#505058" stroke-width="0.8"/>
</g>

<g id="taskbar">
<defs>
<linearGradient id="tbbg" x1="0" y1="0" x2="1" y2="0"><stop offset="0" stop-color="#2d2d2d"/><stop offset="0.13" stop-color="#2b2b2b"/><stop offset="0.16" stop-color="#242424"/><stop offset="0.2" stop-color="#262626"/><stop offset="0.36" stop-color="#2b2b2b"/><stop offset="0.4" stop-color="#2a2a2a"/><stop offset="0.47" stop-color="#2c2c2c"/><stop offset="0.52" stop-color="#282828"/><stop offset="0.56" stop-color="#222222"/><stop offset="0.6" stop-color="#262424"/><stop offset="0.73" stop-color="#1b1919"/><stop offset="0.76" stop-color="#161212"/><stop offset="0.83" stop-color="#120f0f"/><stop offset="1" stop-color="#0e0c0c"/></linearGradient>
<linearGradient id="ecl" x1="0" y1="0" x2="0" y2="1"><stop offset="0" stop-color="#8a6cc0"/><stop offset="0.12" stop-color="#4a2c80"/><stop offset="0.32" stop-color="#2e1658"/><stop offset="0.42" stop-color="#8c6cc4"/><stop offset="0.62" stop-color="#7a52b4"/><stop offset="0.8" stop-color="#9a74d0"/><stop offset="1" stop-color="#d8c0f4"/></linearGradient>
<radialGradient id="ffx" cx="0.55" cy="0.35" r="0.7"><stop offset="0" stop-color="#2a6ad0"/><stop offset="0.45" stop-color="#1a3f9a"/><stop offset="0.55" stop-color="#f7a020"/><stop offset="1" stop-color="#e04a12"/></radialGradient>
<linearGradient id="dlg" x1="0" y1="0" x2="0" y2="1"><stop offset="0" stop-color="#18b4f0"/><stop offset="0.5" stop-color="#1288d0"/><stop offset="1" stop-color="#0a4a9c"/></linearGradient>
<linearGradient id="avr" x1="0" y1="0" x2="0" y2="1"><stop offset="0" stop-color="#e41218"/><stop offset="0.5" stop-color="#e00008"/><stop offset="1" stop-color="#ad0008"/></linearGradient>
<radialGradient id="redc" cx="0.4" cy="0.35" r="0.7"><stop offset="0" stop-color="#f0686e"/><stop offset="1" stop-color="#c21c2a"/></radialGradient>
<linearGradient id="fld" x1="0" y1="0" x2="0" y2="1"><stop offset="0" stop-color="#fbe7a0"/><stop offset="1" stop-color="#e8c66a"/></linearGradient>
<linearGradient id="lnv" x1="0" y1="0" x2="0" y2="1"><stop offset="0" stop-color="#6fa6e0"/><stop offset="0.35" stop-color="#1f58b0"/><stop offset="0.7" stop-color="#123f8a"/><stop offset="1" stop-color="#4f86c8"/></linearGradient>
<linearGradient id="altgl" x1="0" y1="0" x2="0.600" y2="1"><stop offset="0" stop-color="#d0d0d0" stop-opacity="0.950"/><stop offset="1" stop-color="#606060" stop-opacity="0.300"/></linearGradient>
<g id="altstack">
<path d="M0 13.400 L17.300 19.200 L17.300 28.700 L0 21.900 Z" fill="#f4f4f4"/>
<path d="M0 16.300 L17.300 22.300 M0 19 L17.300 25.300" stroke="#c8c8c8" stroke-width="0.800"/>
<path d="M17.300 19.200 L25.600 4.700 L25.600 12.400 L17.300 28.700 Z" fill="#d2d2d2"/>
<path d="M17.300 22.300 L25.600 7.500 M17.300 25.300 L25.600 10" stroke="#f0f0f0" stroke-width="0.800"/>
<path d="M11.100 0 L25.600 4.700 L17.300 19.200 L0 13.400 Z" fill="#080808"/>
<path d="M11.100 0 L25.600 4.700 L21.600 10.600 L4.600 7.600 Z" fill="url(#altgl)"/>
<path d="M10.300 9.200 L14.500 6.600 L17.800 9.200 L13.600 12.200 Z" fill="#d9a520"/>
<path d="M5 11.400 l2.600 -2.200 M20.200 9.600 l1.800 -3" stroke="#6fa6d0" stroke-width="1.600"/>
<circle cx="10" cy="6" r="1.100" fill="#d89040"/><circle cx="17" cy="15.400" r="0.800" fill="#d9a520"/>
<path d="M0 13.400 L11.100 0 L25.600 4.700" fill="none" stroke="#e0e0e0" stroke-width="0.700" opacity="0.800"/>
</g>
</defs>
<rect x="0" y="639.9" width="1200" height="35.1" fill="url(#tbbg)"/>
<!-- subtle texture shapes -->
<path d="M150 640.4 h40 l-18 34.6 h-14 z" fill="#161616" opacity="0.3"/><path d="M153 648 l8 6.500 h5 l4 -7 M193 640.400 q2 26 18 32.600 M225 640.400 q-2 14 -8 24" fill="none" stroke="#0a0a0a" stroke-width="1.300"/>

<path d="M438 640.4 h30 l-6 16 l2 18.600 h-42 z" fill="#0a0a0a" opacity="0.9"/><path d="M442 640.4 h25 l-5 13 l-19 -10 z" fill="#2a2420"/>
<path d="M588 640.4 h28 l8 34.600 h-27 z" fill="#080808" opacity="0.85"/>
<path d="M690 640.4 h36 l-14 34.600 h-30 z" fill="#141212" opacity="0.7"/>
<path d="M760 655 q60 -10 120 8 v12 h-140 z" fill="#3a1616" opacity="0.25"/>
<ellipse cx="940" cy="664" rx="45" ry="9" fill="#3a1212" opacity="0.2"/>
<circle cx="904" cy="651" r="6" fill="none" stroke="#2a2626" stroke-width="2"/>
<!-- eclipse -->
<circle cx="40.800" cy="656.8" r="13.300" fill="url(#ecl)"/>
<circle cx="40.800" cy="656.8" r="12.800" fill="none" stroke="#c0a8e8" stroke-width="0.900" opacity="0.600"/>
<path d="M28.300 654.800 h25 M28 657.600 h25.600 M28.600 660.400 h24.400" stroke="#e6d8f6" stroke-width="1.100" opacity="0.600"/>
<ellipse cx="42.500" cy="666" rx="5" ry="2.600" fill="#fff" opacity="0.550"/>
<!-- C# -->
<rect x="82.800" y="646.8" width="23.400" height="18.800" fill="#3f9a3a"/>
<rect x="85.200" y="649" width="18.600" height="14.400" fill="#f4f8f2"/>
<text x="87.600" y="662" font-size="14" font-weight="bold" fill="#1a9a1a" textLength="14" lengthAdjust="spacingAndGlyphs">c#</text>
<path d="M88 665.600 h14 v-2.400 l6.300 3.600 l-6.300 3.600 v-2.400 h-10 z" fill="#3f76e0"/>
<!-- VLC -->
<path d="M141.500 660.600 L137.800 668.800 q11.700 2.600 23.400 0 L157.600 660.600 z" fill="#f59412"/>
<path d="M137.800 668.800 q11.700 2.600 23.400 0 l0.200 1.200 q-11.900 2.400 -23.800 0 z" fill="#d86e06"/>
<path d="M148.300 644.800 q1.300 -1 2.600 0 L156.600 663.600 q-7 2.600 -14 0 z" fill="#f07e08"/>
<path d="M146.600 649.400 h6 l1.300 4.300 h-8.600 z M144 657.600 h11.200 l1.300 4.600 h-13.800 z" fill="#dcdcdc"/>
<!-- openoffice -->
<circle cx="203.800" cy="657.3" r="13.300" fill="#1b87d0"/>
<path d="M199 651.300 q4 -0.600 5.800 1.800 q2.600 -3 8.600 -2.400 q-5 0.600 -7.800 4.400 q-2 -3.200 -6.600 -3.800 z" fill="#fff"/>
<path d="M191.500 659.600 q7.500 -0.800 10.600 3 q4.400 -5 14.600 -4.200 q-8.600 1.400 -13.600 7.800 q-3.600 -5.200 -11.600 -6.600 z" fill="#fff"/>
<!-- explorer box -->
<rect x="233.500" y="641.5" width="50" height="32.500" fill="#4e4e4e" stroke="#858585" stroke-width="1"/>
<path d="M244.500 648.500 h10 l2 2 h15.500 v20 h-27.500 z" fill="#e6c25e"/>
<rect x="245.500" y="646.3" width="8" height="3" fill="#f4e29a"/><rect x="255.500" y="648.3" width="7" height="3" fill="#f4e29a"/><rect x="262.500" y="650.3" width="7" height="3" fill="#f4e29a"/>
<rect x="247.500" y="646.5" width="2.500" height="1.600" fill="#2fb42f"/><rect x="256" y="648.5" width="2.500" height="1.600" fill="#e03a2a"/><rect x="263.500" y="650.5" width="2.500" height="1.600" fill="#2f76e0"/>
<rect x="244.300" y="652.3" width="27.900" height="18.500" rx="1" fill="url(#fld)"/>
<path d="M248.300 671 v-9.500 q0 -1.500 1.500 -1.500 h17 q1.500 0 1.500 1.500 v9.500 h-4.600 v-5.500 h-10.800 v5.500 z" fill="#6fb8ec" stroke="#bfe2fa" stroke-width="0.700"/>
<!-- firefox box -->
<rect x="287.500" y="641.5" width="50" height="32.500" fill="#4e4e4e" stroke="#858585" stroke-width="1"/>
<circle cx="312.800" cy="657.3" r="13.400" fill="url(#ffx)"/>
<path d="M300 652 q1.500 -5 6 -6.500 q-1.500 3 0.500 5 q3 -1 5.500 1 q-3.500 0.500 -4 3.500 q2.500 2.500 6.500 1.500 q-2 4.500 -7 4 q-5 -0.800 -7.500 -8.500 z" fill="#f4801a"/>
<path d="M319 646 q7 4 6.800 12 q-0.600 8 -8.800 12 q6 -6 4.600 -13 q-0.600 -6 -2.600 -11 z" fill="#f7b82a"/>
<!-- freemake diamond -->
<path d="M368.300 645 l8 8 l-8 8 l-8 -8 z" fill="none" stroke="#3aa6c6" stroke-width="3.200"/>
<path d="M366.600 654 l4.400 -3.200 l-1.400 4.600 z" fill="#3aa6c6"/>
<path d="M359.200 661.300 l9.100 8 l9.100 -8" fill="none" stroke="#2f9ac0" stroke-width="4.200"/>
<!-- avira -->
<rect x="407.600" y="643.400" width="28.200" height="27.800" rx="2" fill="url(#avr)"/>
<path d="M413.800 657.600 Q412.200 650.500 418.500 647.800 Q423.800 646.300 427 649 Z" fill="none" stroke="#fff" stroke-width="1.900" stroke-linejoin="round"/>
<path d="M420.600 653.600 L424.200 658 Q426.300 660 428.300 658.300 Q429.500 657.200 429.200 655.600" fill="none" stroke="#fff" stroke-width="1.700" stroke-linecap="round"/>
<text x="411.800" y="668.500" font-size="7.800" font-weight="bold" fill="#fff" textLength="20" lengthAdjust="spacingAndGlyphs">AVIRA</text>
<!-- download circle -->
<circle cx="476" cy="657" r="14" fill="url(#dlg)"/>
<path d="M474.300 647.500 h3.400 v5 h3.600 l-5.300 5.500 l-5.300 -5.500 h3.600 z" fill="#fff"/>
<path d="M467.800 659.300 l2 -3.300 h2 l1.600 2 h5.200 l1.600 -2 h2 l2 3.300 v6.200 h-16.400 z" fill="#fff"/>
<path d="M468.500 662.300 h15" stroke="#6fb2e6" stroke-width="1"/>
<!-- A icon -->
<circle cx="530.400" cy="657.4" r="12.700" fill="#1a2630"/>
<path d="M519.500 652 q4 -7 13 -6.800 l-11.500 16 q-3 -4 -1.500 -9.200 z" fill="#2fc2e6"/>
<path d="M536 646.500 q6 2.500 6.600 9.500 q0 6 -4.600 9.800 l-3 -0.300 v-8 z" fill="#1a90b8"/>
<path d="M520.500 667 l12.500 -18 h3.500 v18 h-4.600 v-4.500 h-4 l-2.800 4.500 z" fill="#e6e6e6"/>
<path d="M529.500 659.300 l2.400 -3.800 v3.800 z" fill="#1a2630"/>
<path d="M522 667.500 q8 4 15 0" fill="none" stroke="#2fc2e6" stroke-width="1.400"/>
<!-- lenovo monitor -->
<rect x="571" y="643.600" width="28" height="23" rx="1" fill="#f2f2f2"/>
<rect x="573" y="645.600" width="24" height="19" fill="url(#lnv)"/>
<path d="M574.600 653.800 h19.800" stroke="#dfeaf8" stroke-width="1.600" stroke-dasharray="2.200 0.600"/>
<path d="M581 666.600 h8 l1 3 h5 v2 h-20 v-2 h5 z" fill="#ececec"/>
<!-- green chevron -->
<circle cx="639.600" cy="657" r="14" fill="#4cb648"/>
<circle cx="639.600" cy="657" r="13.300" fill="none" stroke="#6fd06a" stroke-width="1" opacity="0.600"/>
<path d="M630 650.800 l9.600 8.200 l9.600 -8.200 v6.500 l-9.600 8.700 l-9.600 -8.700 z" fill="#fff"/>
<!-- altium stack -->
<use href="#altstack" transform="translate(681,642.600)"/>
<!-- skype box -->
<rect x="723.500" y="641.5" width="50" height="32.500" fill="#3d3b3b" stroke="#6e6e6e" stroke-width="1"/>
<circle cx="743.500" cy="652.500" r="8" fill="#12a5e8"/><circle cx="752.500" cy="662.500" r="8" fill="#12a5e8"/><circle cx="748" cy="657.500" r="11" fill="#12a5e8"/>
<text x="741.600" y="665.300" font-size="21" font-weight="bold" fill="#fff" textLength="13" lengthAdjust="spacingAndGlyphs">S</text>
<!-- active altium box -->
<defs><linearGradient id="actg" x1="0" y1="0" x2="1" y2="1"><stop offset="0" stop-color="#5a5656"/><stop offset="0.500" stop-color="#6e6a6a"/><stop offset="1" stop-color="#4a4646"/></linearGradient></defs>
<rect x="777.800" y="641.3" width="50.400" height="32.200" fill="url(#actg)" stroke="#dcdcdc" stroke-width="1.200"/>
<use href="#altstack" transform="translate(790,643.200)"/>
<!-- paint box -->
<rect x="832.500" y="641.5" width="50.500" height="32.500" fill="#343232" stroke="#6a6a6a" stroke-width="1"/>
<path d="M842 660 q0 -9 11 -10.500 q9 -0.500 11.500 5 q1.500 5 -3 6.500 q-3 0.800 -2.500 3.500 q0.600 3 -3 4.500 q-6 1.500 -10.500 -2 q-3.500 -3 -3.500 -7 z" fill="#a9cbea" stroke="#6f9ac8" stroke-width="0.800"/>
<circle cx="846.300" cy="659.500" r="2" fill="#e03a2a"/><circle cx="849.300" cy="654.300" r="2" fill="#3fb43a"/><circle cx="855.500" cy="652.800" r="2" fill="#f0c02a"/><circle cx="851.300" cy="664.300" r="1.800" fill="#2a3a6a"/>
<path d="M869.500 648 l-11.500 20" stroke="#e8862a" stroke-width="2.600" stroke-linecap="round"/>
<path d="M868 644.500 l4.500 1.500 l-2 5 l-3.500 -1.500 z" fill="#e8c69a"/>
<!-- tray pill -->
<path d="M976.500 675 v-25 q0.500 -8.300 9 -8.700 h44" fill="none" stroke="#5a5a5a" stroke-width="1.200"/>
<path d="M977.500 675 v-25 q0.500 -7.500 8 -7.700 h44 v32.700 z" fill="#1a1414" opacity="0.500"/>
<circle cx="1003.200" cy="658" r="12" fill="url(#redc)"/>
<path d="M996.500 651.500 l4.500 4.500 M1010 651.500 l-4.500 4.500 M996.500 664.500 l4.500 -4.500 M1010 664.500 l-4.500 -4.500" stroke="#fff" stroke-width="1.800"/>
<path d="M998 656.300 h3.300 v-3.300 M1008.500 656.300 h-3.300 v-3.300 M998 659.800 h3.300 v3.300 M1008.500 659.800 h-3.300 v3.300" stroke="#fff" stroke-width="1.300" fill="none"/>
<circle cx="1010.800" cy="650.600" r="5.400" fill="#f07048" stroke="#f6b8a0" stroke-width="0.700"/>
<path d="M1008.600 648.400 l4.400 4.400 M1013 648.400 l-4.400 4.400" stroke="#fff" stroke-width="1.500"/>
<!-- tray icons -->
<path d="M1036.600 660.300 l3 -3.300 l3 3.300 z" fill="#f2f2f2"/>
<rect x="1060.800" y="653.500" width="6.600" height="11.400" rx="1.200" fill="none" stroke="#f2f2f2" stroke-width="1.400"/>
<rect x="1062.600" y="652" width="3" height="1.500" fill="#f2f2f2"/>
<path d="M1056.300 652.300 v3.500 M1058.800 652.300 v3.500 M1055.800 656 h3.600 v2.400 h-3.600 z M1057.600 658.400 v6" stroke="#f2f2f2" stroke-width="1.100" fill="#f2f2f2"/>
<path d="M1076.600 656 h2.600 l3.600 -3.400 v11.800 l-3.600 -3.400 h-2.600 z" fill="#f2f2f2"/>
<circle cx="1085.300" cy="661.300" r="3.600" fill="#e0242a"/><path d="M1083 659 l4.600 4.600" stroke="#fff" stroke-width="1.100"/>
<rect x="1101" y="654" width="8.600" height="6.600" fill="none" stroke="#f2f2f2" stroke-width="1.200"/>
<path d="M1105.300 660.600 v3 M1102.300 664.300 h6" stroke="#f2f2f2" stroke-width="1.200"/>
<circle cx="1098.800" cy="653.600" r="1.800" fill="none" stroke="#f2f2f2" stroke-width="1"/>
<path d="M1098.800 655.400 v8.600" stroke="#f2f2f2" stroke-width="1"/>
<text x="1140.500" y="654.700" font-size="10.800" fill="#f4f4f4" textLength="22.800" lengthAdjust="spacingAndGlyphs">09:52</text>
<text x="1126.800" y="669.400" font-size="10.800" fill="#f4f4f4" textLength="50" lengthAdjust="spacingAndGlyphs">13/04/2014</text>
</g>

</svg>
</body></html>
